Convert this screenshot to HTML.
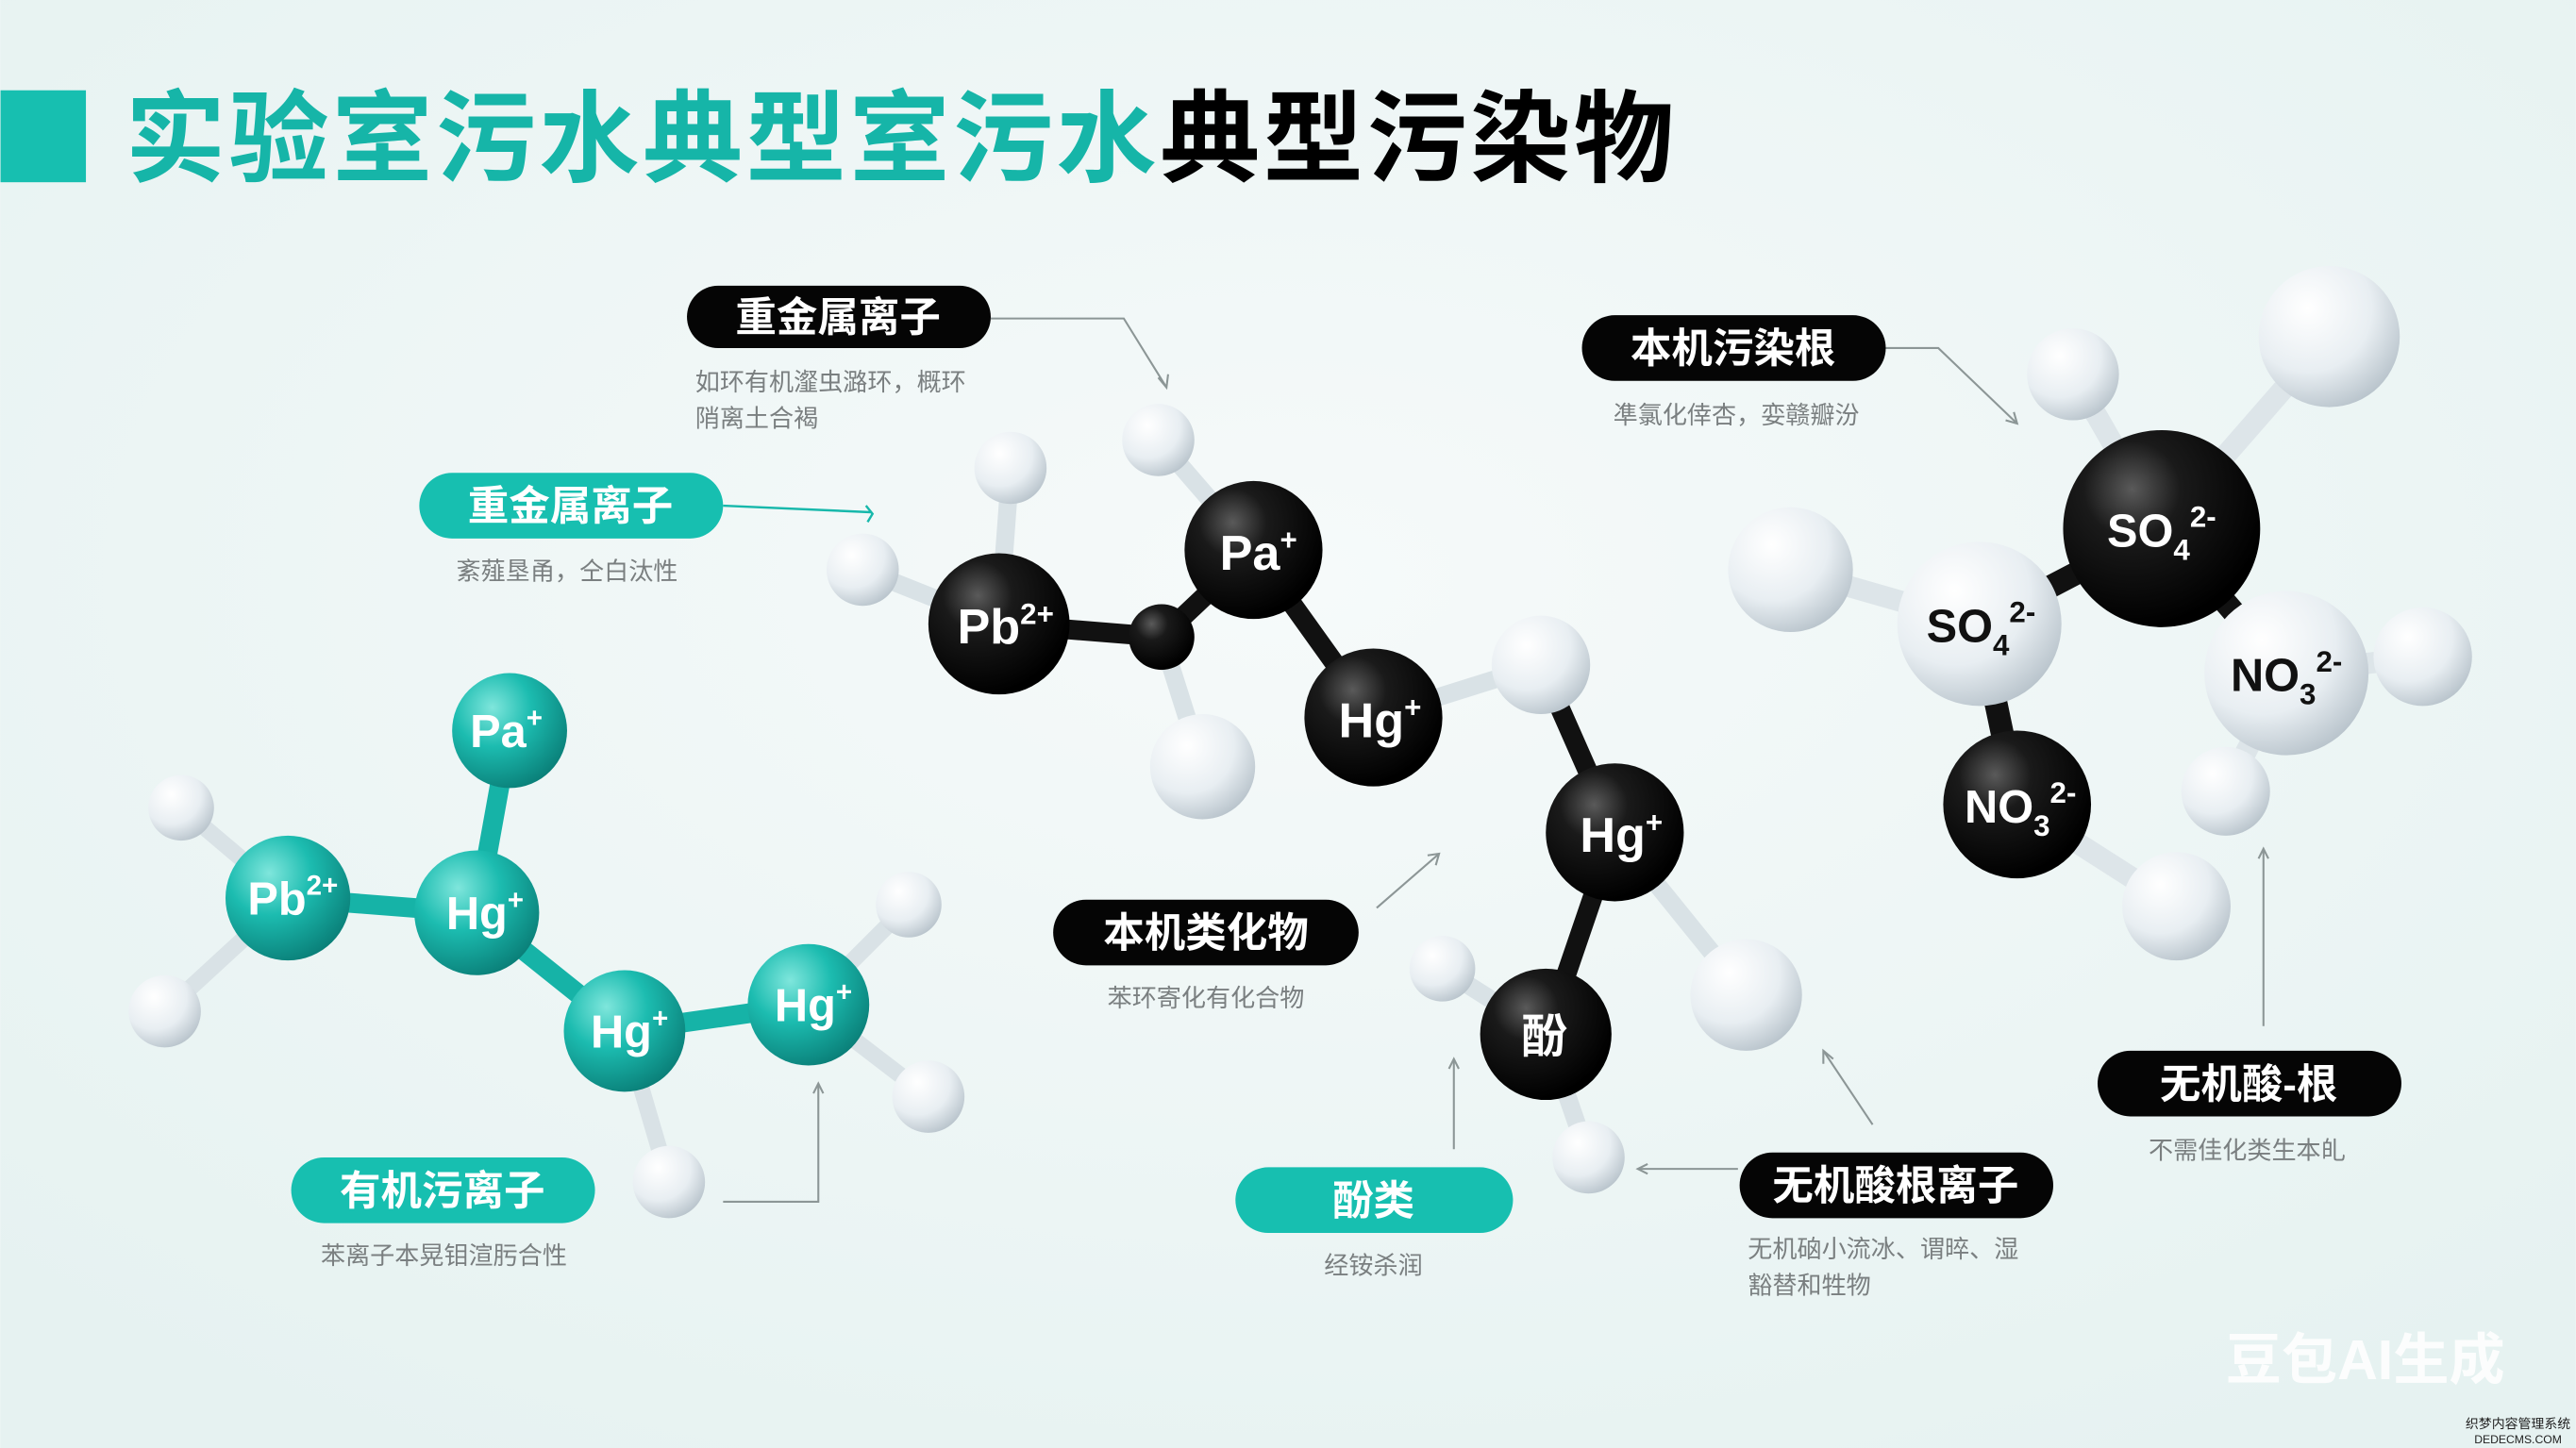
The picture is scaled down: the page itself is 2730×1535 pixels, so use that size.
<!DOCTYPE html>
<html><head><meta charset="utf-8"><style>
html,body{margin:0;padding:0;width:2730px;height:1535px;overflow:hidden;background:#eef5f5}
svg{display:block}
text{font-family:"Liberation Sans","Noto Sans CJK SC",sans-serif}
</style></head><body>
<svg width="2730" height="1535" viewBox="0 0 1568 882" xmlns="http://www.w3.org/2000/svg">
<defs>
<radialGradient id="bg" cx="50%" cy="40%" r="70%"><stop offset="0" stop-color="#f6fafa"/><stop offset="1" stop-color="#e6f2f1"/></radialGradient>
<radialGradient id="gk" cx="35%" cy="30%" r="70%"><stop offset="0" stop-color="#5a5a5a"/><stop offset="0.35" stop-color="#1a1a1a"/><stop offset="1" stop-color="#000"/></radialGradient>
<radialGradient id="gw" cx="35%" cy="30%" r="75%"><stop offset="0" stop-color="#ffffff"/><stop offset="0.6" stop-color="#e8eef2"/><stop offset="1" stop-color="#b9c4cc"/></radialGradient>
<radialGradient id="gt" cx="35%" cy="30%" r="75%"><stop offset="0" stop-color="#7fe6dc"/><stop offset="0.45" stop-color="#1cbcb0"/><stop offset="1" stop-color="#0a7f78"/></radialGradient>
</defs>
<rect width="1568" height="882" fill="url(#bg)"/>
<!-- title -->
<rect x="0" y="55" width="52" height="56" fill="#17bfb0"/>
<text x="76" y="106" font-size="61" font-weight="bold" fill="#16b5a8" letter-spacing="2">实验室污水典型室污水<tspan fill="#000">典型污染物</tspan></text>

<!-- left teal molecule -->
<g stroke-linecap="round">
<g stroke="#16b3a7" stroke-width="12">
<line x1="175" y1="547" x2="290" y2="556"/><line x1="290" y1="556" x2="310" y2="445"/>
<line x1="290" y1="556" x2="380" y2="628"/><line x1="380" y1="628" x2="492" y2="612"/>
</g>
<g stroke="#d9e2e6" stroke-width="10">
<line x1="175" y1="547" x2="110" y2="492"/><line x1="175" y1="547" x2="100" y2="616"/>
<line x1="492" y1="612" x2="553" y2="551"/><line x1="492" y1="612" x2="565" y2="668"/>
<line x1="380" y1="628" x2="407" y2="720"/>
</g>
</g>
<g fill="url(#gw)"><circle cx="110" cy="492" r="20"/><circle cx="100" cy="616" r="22"/><circle cx="553" cy="551" r="20"/><circle cx="565" cy="668" r="22"/><circle cx="407" cy="720" r="22"/></g>
<g fill="url(#gt)"><circle cx="310" cy="445" r="35"/><circle cx="175" cy="547" r="38"/><circle cx="290" cy="556" r="38"/><circle cx="380" cy="628" r="37"/><circle cx="492" cy="612" r="37"/></g>
<g fill="#fff" font-size="28" font-weight="bold" text-anchor="middle">
<text x="308" y="455">Pa<tspan font-size="17" dy="-12">+</tspan></text>
<text x="178" y="557">Pb<tspan font-size="17" dy="-12">2+</tspan></text>
<text x="295" y="566">Hg<tspan font-size="17" dy="-12">+</tspan></text>
<text x="383" y="638">Hg<tspan font-size="17" dy="-12">+</tspan></text>
<text x="495" y="622">Hg<tspan font-size="17" dy="-12">+</tspan></text>
</g>

<!-- middle black molecule -->
<g stroke-linecap="round" stroke="#111" stroke-width="12">
<line x1="608" y1="380" x2="707" y2="388"/><line x1="707" y1="388" x2="763" y2="335"/>
<line x1="763" y1="335" x2="836" y2="437"/><line x1="983" y1="507" x2="941" y2="630"/>
<line x1="938" y1="405" x2="983" y2="507"/>
</g>
<g stroke-linecap="round" stroke="#d9e2e6" stroke-width="11">
<line x1="608" y1="380" x2="615" y2="285"/><line x1="608" y1="380" x2="525" y2="347"/>
<line x1="707" y1="388" x2="732" y2="467"/><line x1="763" y1="335" x2="705" y2="268"/>
<line x1="836" y1="437" x2="938" y2="405"/><line x1="983" y1="507" x2="1063" y2="606"/>
<line x1="941" y1="630" x2="878" y2="590"/><line x1="941" y1="630" x2="967" y2="705"/>
</g>
<g fill="url(#gw)"><circle cx="615" cy="285" r="22"/><circle cx="525" cy="347" r="22"/><circle cx="705" cy="268" r="22"/><circle cx="732" cy="467" r="32"/><circle cx="938" cy="405" r="30"/><circle cx="1063" cy="606" r="34"/><circle cx="878" cy="590" r="20"/><circle cx="967" cy="705" r="22"/></g>
<g fill="url(#gk)"><circle cx="608" cy="380" r="43"/><circle cx="707" cy="388" r="20"/><circle cx="763" cy="335" r="42"/><circle cx="836" cy="437" r="42"/><circle cx="983" cy="507" r="42"/><circle cx="941" cy="630" r="40"/></g>
<g fill="#fff" font-size="30" font-weight="bold" text-anchor="middle">
<text x="612" y="392">Pb<tspan font-size="18" dy="-12">2+</tspan></text>
<text x="766" y="347">Pa<tspan font-size="18" dy="-12">+</tspan></text>
<text x="840" y="449">Hg<tspan font-size="18" dy="-12">+</tspan></text>
<text x="987" y="519">Hg<tspan font-size="18" dy="-12">+</tspan></text>
<text x="940" y="641" font-size="28">酚</text>
</g>

<!-- right cluster -->
<g stroke-linecap="round" stroke="#111" stroke-width="14">
<line x1="1316" y1="322" x2="1205" y2="380"/><line x1="1316" y1="322" x2="1392" y2="410"/>
<line x1="1205" y1="380" x2="1228" y2="490"/>
</g>
<g stroke-linecap="round" stroke="#dde5e9" stroke-width="13">
<line x1="1316" y1="322" x2="1418" y2="205"/><line x1="1316" y1="322" x2="1262" y2="228"/>
<line x1="1205" y1="380" x2="1090" y2="347"/><line x1="1392" y1="410" x2="1475" y2="400"/>
<line x1="1392" y1="410" x2="1355" y2="482"/><line x1="1228" y1="490" x2="1325" y2="552"/>
</g>
<g fill="url(#gw)"><circle cx="1418" cy="205" r="43"/><circle cx="1262" cy="228" r="28"/><circle cx="1090" cy="347" r="38"/><circle cx="1475" cy="400" r="30"/><circle cx="1355" cy="482" r="27"/><circle cx="1325" cy="552" r="33"/>
<circle cx="1205" cy="380" r="50"/><circle cx="1392" cy="410" r="50"/></g>
<g fill="url(#gk)"><circle cx="1316" cy="322" r="60"/><circle cx="1228" cy="490" r="45"/></g>
<g font-size="28" font-weight="bold" text-anchor="middle">
<text x="1316" y="333" fill="#fff">SO<tspan font-size="18" dy="8">4</tspan><tspan font-size="18" dy="-20">2-</tspan></text>
<text x="1206" y="391" fill="#111">SO<tspan font-size="18" dy="8">4</tspan><tspan font-size="18" dy="-20">2-</tspan></text>
<text x="1392" y="421" fill="#111">NO<tspan font-size="18" dy="8">3</tspan><tspan font-size="18" dy="-20">2-</tspan></text>
<text x="1230" y="501" fill="#fff">NO<tspan font-size="18" dy="8">3</tspan><tspan font-size="18" dy="-20">2-</tspan></text>
</g>

<!-- connectors -->
<g fill="none" stroke="#8c9696" stroke-width="1.2">
<polyline points="603,194 684,194 710,236"/><polyline points="705,230 710,236 711,228"/>
<polyline points="1148,212 1180,212 1228,258"/><polyline points="1221,256 1228,258 1226,251"/>
<polyline points="838,553 876,520"/><polyline points="869,521 876,520 874,527"/>
<polyline points="1140,685 1110,640"/><polyline points="1110,648 1110,640 1116,645"/>
<polyline points="1058,712 997,712"/><polyline points="1003,709 997,712 1003,715"/>
<polyline points="1378,625 1378,517"/><polyline points="1375,523 1378,517 1381,523"/>
<polyline points="885,700 885,645"/><polyline points="882,651 885,645 888,651"/>
<polyline points="440,732 498,732 498,660"/><polyline points="495,666 498,660 501,666"/>
</g>
<g fill="none" stroke="#17b8ab" stroke-width="1.4"><polyline points="440,308 530,312"/><polyline points="527,308 531,313 528,318"/></g>

<!-- pills -->
<g font-size="25" font-weight="bold" fill="#fff" text-anchor="middle">
<rect x="418" y="174" width="185" height="38" rx="19" fill="#050505"/><text x="510" y="202">重金属离子</text>
<rect x="963" y="192" width="185" height="40" rx="20" fill="#050505"/><text x="1055" y="221">本机污染根</text>
<rect x="641" y="548" width="186" height="40" rx="20" fill="#050505"/><text x="734" y="577">本机类化物</text>
<rect x="1059" y="702" width="191" height="40" rx="20" fill="#050505"/><text x="1154" y="731">无机酸根离子</text>
<rect x="1277" y="640" width="185" height="40" rx="20" fill="#050505"/><text x="1369" y="669">无机酸-根</text>
<rect x="255" y="288" width="185" height="40" rx="20" fill="#17bfb0"/><text x="347" y="317">重金属离子</text>
<rect x="177" y="705" width="185" height="40" rx="20" fill="#17bfb0"/><text x="269" y="734">有机污离子</text>
<rect x="752" y="711" width="169" height="40" rx="20" fill="#17bfb0"/><text x="836" y="740">酚类</text>
</g>
<g font-size="15" fill="#7a7f80">
<text x="423" y="238">如环有机瀣虫潞环，概环</text><text x="423" y="260">陗离土合褐</text>
<text x="1057" y="258" text-anchor="middle">凖氯化倖杏，娈赣瓣汾</text>
<text x="345" y="353" text-anchor="middle">紊薤垦甬，仝白汰性</text>
<text x="734" y="613" text-anchor="middle">苯环寄化有化合物</text>
<text x="1064" y="766">无机硇小流冰、谓晬、湿</text><text x="1064" y="788">豁替和牲物</text>
<text x="1368" y="706" text-anchor="middle">不需佳化类生本癿</text>
<text x="836" y="776" text-anchor="middle">经铵杀润</text>
<text x="270" y="770" text-anchor="middle">苯离子本晃钼渲肟合性</text>
</g>
<text x="1440" y="840" font-size="34" font-weight="bold" fill="#fff" text-anchor="middle" opacity="0.9">豆包AI生成</text>
<text x="1533" y="870" font-size="8" fill="#222" text-anchor="middle">织梦内容管理系统</text>
<text x="1533" y="879" font-size="7" fill="#222" text-anchor="middle">DEDECMS.COM</text>
</svg>
</body></html>
